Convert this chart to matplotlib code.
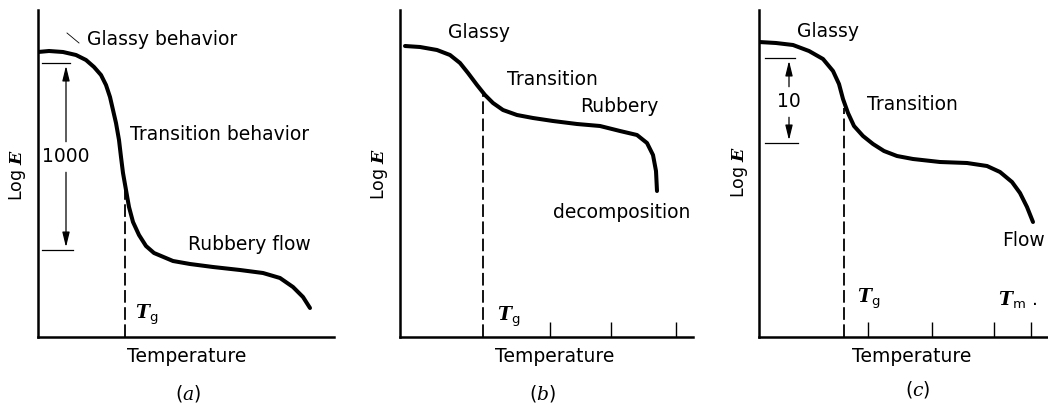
import numpy as np
import matplotlib.pyplot as plt

plt.rcParams['font.family'] = 'DejaVu Sans'
plt.rcParams['mathtext.fontset'] = 'custom'
plt.rcParams['mathtext.rm'] = 'DejaVu Sans'
plt.rcParams['mathtext.it'] = 'DejaVu Serif:italic'
plt.rcParams['mathtext.bfit'] = 'DejaVu Serif:italic:bold'

# ---------------- data (arbitrary units) ----------------
# (a) amorphous polymer
a_temp = [0, 11, 25, 38, 48, 56, 63, 68, 72, 75, 78, 81, 83, 85, 88, 91, 95, 101, 108,
          116, 135, 152, 175, 202, 225, 242, 255, 265, 272]
a_logE = [285, 286, 285, 282, 277, 270, 262, 252, 240, 227, 214, 197, 180, 164, 147, 130, 115, 102, 91,
          84, 76, 73, 70, 67, 64, 59, 50, 40, 29]
a_tg, a_tg_top = 87, 150
a_dim_top, a_dim_bot = 274, 87

# (b) crosslinked
b_temp = [5, 20, 37, 50, 60, 68, 77, 85, 93, 103, 117, 133, 153, 177, 200, 220, 237, 247, 253, 256, 257]
b_logE = [291, 290, 287, 282, 274, 264, 252, 242, 234, 227, 222, 219, 216, 213, 211, 206, 202, 194, 182, 166, 146]
b_tg, b_tg_top = 83, 244
b_ticks = [150, 211, 276]

# (c) semicrystalline
c_temp = [0, 17, 34, 50, 64, 74, 80, 84, 89, 95, 104, 114, 125, 138, 154, 181, 208, 228, 241, 253, 261, 268, 274]
c_logE = [295, 294, 292, 286, 278, 266, 253, 238, 224, 211, 201, 193, 186, 181, 178, 175, 174, 171, 165, 155, 144, 130, 115]
c_tg, c_tg_top = 85, 229
c_ticks = [109, 173, 235, 272]
c_dim_top, c_dim_bot = 279, 194

W, H = 1048, 404
fs = 13.5
tg_label = r'$\mathbfit{T}_{\mathrm{g}}$'
tm_label = r'$\mathbfit{T}_{\mathrm{m}}$'
loge_label = r'Log $\mathbfit{E}$'

fig = plt.figure(figsize=(W / 100, H / 100), dpi=100)


def make_axes(left, width, top=10, bottom=337):
    ax = fig.add_axes([left / W, (H - bottom) / H, width / W, (bottom - top) / H])
    ax.set_xlim(0, width)
    ax.set_ylim(0, bottom - top)
    for s in ['top', 'right']:
        ax.spines[s].set_visible(False)
    for s in ['left', 'bottom']:
        ax.spines[s].set_linewidth(1.8)
    ax.set_xticks([])
    ax.set_yticks([])
    return ax


def curve(ax, x, y):
    ax.plot(x, y, color='black', lw=2.9, solid_capstyle='round',
            solid_joinstyle='round', zorder=3)


def dimension(ax, x, x0, x1, top, bottom, label, ymid):
    ax.plot([x0, x1], [top, top], color='black', lw=0.9)
    ax.plot([x0, x1 + 3], [bottom, bottom], color='black', lw=0.9)
    ax.text(x, ymid, label, ha='center', va='center', fontsize=fs,
            bbox=dict(facecolor='white', edgecolor='none', pad=1))
    ap = dict(arrowstyle='-|>,head_length=0.9,head_width=0.22', color='black',
              lw=0.9, shrinkA=11, shrinkB=2)
    ax.annotate('', xy=(x, top), xytext=(x, ymid), arrowprops=ap)
    ax.annotate('', xy=(x, bottom), xytext=(x, ymid), arrowprops=ap)


# ---------------- (a) ----------------
ax = make_axes(38, 296)
curve(ax, a_temp, a_logE)
ax.plot([a_tg, a_tg], [0, a_tg_top], color='black', lw=1.3, dashes=(7, 2.5))
dimension(ax, 28, 4, 32, a_dim_top, a_dim_bot, '1000', 180)
ax.plot([29, 41], [304, 294], color='black', lw=0.6)
ax.text(49, 297, 'Glassy behavior', fontsize=fs, va='center')
ax.text(92, 202, 'Transition behavior', fontsize=fs, va='center')
ax.text(150, 92, 'Rubbery flow', fontsize=fs, va='center')
ax.text(97, 22, tg_label, fontsize=fs, va='center')
ax.text(149, -20, 'Temperature', fontsize=fs, ha='center', va='center', clip_on=False)
ax.text(150, -56, r'$(\mathit{a})$', fontsize=fs, ha='center', va='center', clip_on=False)
ax.text(-21, 162, loge_label, fontsize=12.5, rotation=90, ha='center', va='center', clip_on=False)

# ---------------- (b) ----------------
ax = make_axes(400, 293)
curve(ax, b_temp, b_logE)
ax.plot([b_tg, b_tg], [0, b_tg_top], color='black', lw=1.3, dashes=(7, 2.5))
ax.set_xticks(b_ticks)
ax.tick_params(axis='x', direction='in', length=11, width=1.0, labelbottom=False)
ax.text(48, 304, 'Glassy', fontsize=fs, va='center')
ax.text(107, 257, 'Transition', fontsize=fs, va='center')
ax.text(180, 230, 'Rubbery', fontsize=fs, va='center')
ax.text(153, 124, 'decomposition', fontsize=fs, va='center', clip_on=False)
ax.text(97, 20, tg_label, fontsize=fs, va='center')
ax.text(155, -20, 'Temperature', fontsize=fs, ha='center', va='center', clip_on=False)
ax.text(142, -56, r'$(\mathit{b})$', fontsize=fs, ha='center', va='center', clip_on=False)
ax.text(-20, 163, loge_label, fontsize=12.5, rotation=90, ha='center', va='center', clip_on=False)

# ---------------- (c) ----------------
ax = make_axes(759, 289)
curve(ax, c_temp, c_logE)
ax.plot([c_tg, c_tg], [0, c_tg_top], color='black', lw=1.3, dashes=(7, 2.5))
ax.set_xticks(c_ticks)
ax.tick_params(axis='x', direction='in', length=11, width=1.0, labelbottom=False)
dimension(ax, 30, 6, 36, c_dim_top, c_dim_bot, '10', 235)
ax.text(38, 305, 'Glassy', fontsize=fs, va='center')
ax.text(108, 232, 'Transition', fontsize=fs, va='center')
ax.text(243, 96, 'Flow', fontsize=fs, va='center', clip_on=False)
ax.text(98, 38, tg_label, fontsize=fs, va='center')
ax.text(239, 38, tm_label + ' .', fontsize=fs, va='center', clip_on=False)
ax.text(153, -20, 'Temperature', fontsize=fs, ha='center', va='center', clip_on=False)
ax.text(159, -53, r'$(\mathit{c})$', fontsize=fs, ha='center', va='center', clip_on=False)
ax.text(-19, 165, loge_label, fontsize=12.5, rotation=90, ha='center', va='center', clip_on=False)

fig.savefig('out.png', dpi=100)
